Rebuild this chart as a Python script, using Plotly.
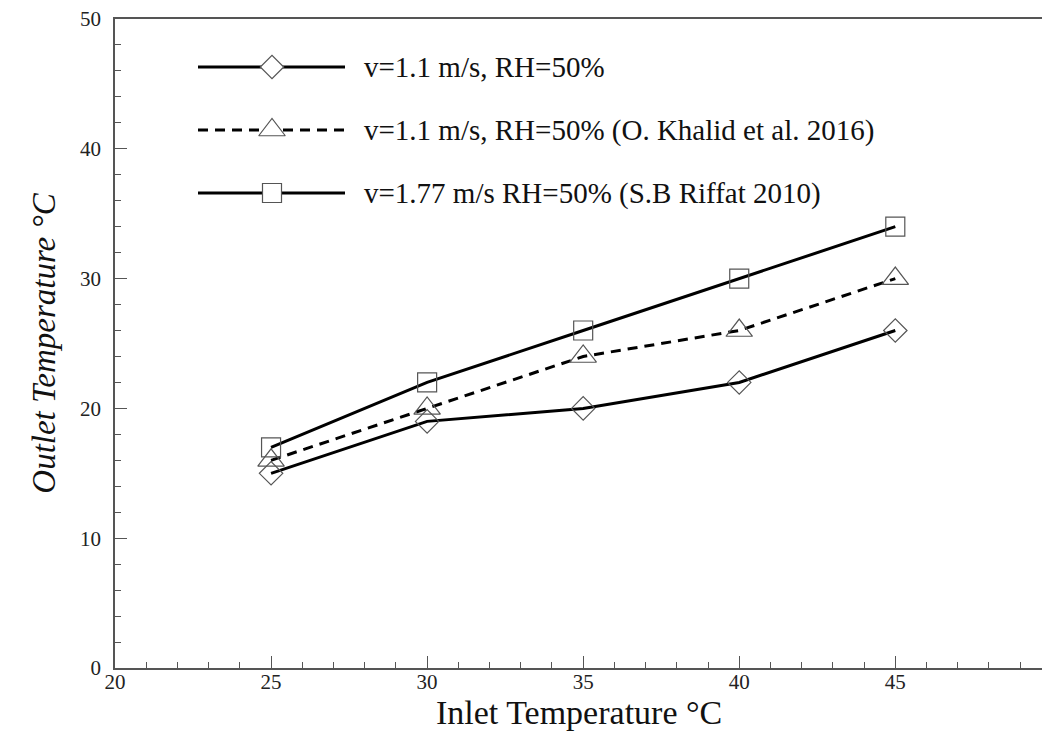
import plotly.graph_objects as go

# ---- data ----
inlet_temp = [25, 30, 35, 40, 45]
outlet_present = [15, 19, 20, 22, 26]          # v=1.1 m/s, RH=50%
outlet_khalid = [16, 20, 24, 26, 30]           # O. Khalid et al. 2016
outlet_riffat = [17, 22, 26, 30, 34]           # S.B Riffat 2010

series_names = [
    "v=1.1 m/s, RH=50%",
    "v=1.1 m/s, RH=50% (O. Khalid et al. 2016)",
    "v=1.77 m/s RH=50% (S.B Riffat 2010)",
]
series_values = [outlet_present, outlet_khalid, outlet_riffat]
series_symbols = ["diamond", "triangle-up", "square"]
series_sizes = [18, 23, 19]
series_dash = ["solid", "10px,7px", "solid"]

x_ticks = [20, 25, 30, 35, 40, 45]
y_ticks = [0, 10, 20, 30, 40, 50]

SERIF = "Liberation Serif, Times New Roman, serif"
W, H = 1042, 733
ML, MR, MT, MB = 115, 0, 19, 65
PW, PH = W - ML - MR, H - MT - MB

fig = go.Figure()

for name, vals, sym, sz, dash in zip(series_names, series_values, series_symbols, series_sizes, series_dash):
    fig.add_trace(go.Scatter(
        x=inlet_temp, y=vals, mode="lines+markers", name=name, showlegend=False,
        line=dict(color="black", width=3, dash=dash),
        marker=dict(symbol=sym + "-open", size=sz, color="#555", line=dict(width=1.2, color="#555")),
        cliponaxis=False,
    ))

# ---- custom legend (drawn on an overlay 0..1 axis) ----
def px_x(p):
    return (p - ML) / PW

def px_y(p):
    return (H - MB - p) / PH

leg_rows_px = [67, 130, 193]
leg_x0, leg_x1, leg_xm, leg_text = px_x(198), px_x(345), px_x(272), px_x(362)

for i, (name, sym, sz, dash) in enumerate(zip(series_names, series_symbols, series_sizes, series_dash)):
    yy = px_y(leg_rows_px[i])
    fig.add_trace(go.Scatter(
        x=[leg_x0, leg_x1], y=[yy, yy], mode="lines", xaxis="x2", yaxis="y2", showlegend=False,
        line=dict(color="black", width=3, dash=dash), hoverinfo="skip",
    ))
    fig.add_trace(go.Scatter(
        x=[leg_xm], y=[yy], mode="markers", xaxis="x2", yaxis="y2", showlegend=False,
        marker=dict(symbol=sym, size=sz, color="white", line=dict(width=1.2, color="#555")),
        hoverinfo="skip",
    ))
    fig.add_annotation(
        x=leg_text, y=yy, xref="paper", yref="paper", text=name, showarrow=False,
        xanchor="left", yanchor="middle", font=dict(family=SERIF, size=29, color="#111"),
    )

# x-axis title placed as an annotation hugging the bottom edge
fig.add_annotation(
    x=px_x((ML + W) / 2), y=px_y(H - 1), xref="paper", yref="paper",
    text="Inlet Temperature °C", showarrow=False, xanchor="center", yanchor="bottom",
    borderpad=0, font=dict(family=SERIF, size=34, color="#111"),
)

axis_common = dict(
    showline=True, linecolor="#555", linewidth=1.5, ticks="inside", ticklen=12,
    tickcolor="#555", tickwidth=1.2, showgrid=False, zeroline=False,
    tickfont=dict(family=SERIF, size=21, color="#222"),
)

fig.update_layout(
    width=W, height=H,
    margin=dict(l=ML, r=MR, t=MT, b=MB),
    paper_bgcolor="white", plot_bgcolor="white",
    xaxis=dict(
        range=[20, 49.7], tickvals=x_ticks, mirror=True, ticklabelstandoff=-6,
        minor=dict(dtick=1, ticks="inside", ticklen=6, tickcolor="#555", tickwidth=1),
        **axis_common,
    ),
    yaxis=dict(
        range=[0, 50], tickvals=y_ticks,
        minor=dict(dtick=2, ticks="inside", ticklen=6, tickcolor="#555", tickwidth=1),
        title=dict(text="<i>Outlet Temperature °C</i>", font=dict(family=SERIF, size=33, color="#111"), standoff=14),
        ticklabelstandoff=8,
        **axis_common,
    ),
    xaxis2=dict(overlaying="x", range=[0, 1], visible=False),
    yaxis2=dict(overlaying="y", range=[0, 1], visible=False),
    showlegend=False,
)

fig.write_html(
    "out.html",
    config={"displayModeBar": False},
    post_script="document.body.style.margin='0';document.body.style.overflow='hidden';",
)
